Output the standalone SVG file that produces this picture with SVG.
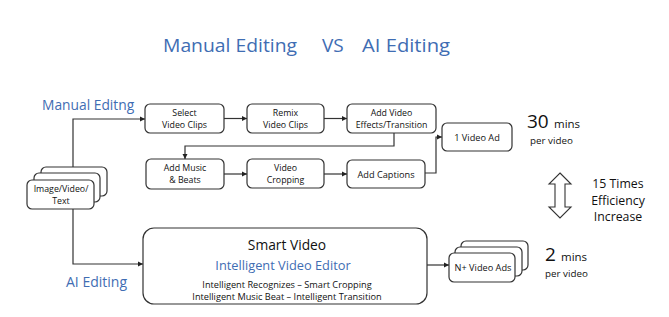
<svg xmlns="http://www.w3.org/2000/svg" width="669" height="317" viewBox="0 0 669 317">
<defs>
<marker id="ah" markerWidth="6" markerHeight="6" refX="5" refY="3" orient="auto" markerUnits="userSpaceOnUse">
<path d="M0,0.5 L5,3 L0,5.5 z" fill="#222"/>
</marker>
<style>
.box{fill:#fff;stroke:#333;stroke-width:1.2}
.lbl{font-family:"Open Sans",Lato,sans-serif;font-size:9.2px;fill:#111;text-anchor:middle}
.lbl2{font-family:"Open Sans",Lato,sans-serif;font-size:8.8px;fill:#111;text-anchor:middle}
.blue{font-family:"Open Sans",Lato,sans-serif;fill:#3f6db3}
.blk{font-family:"Open Sans",Lato,sans-serif;fill:#111}
.conn{fill:none;stroke:#333;stroke-width:1.2}
</style>
</defs>
<rect width="669" height="317" fill="#fff"/>
<g id="title">
<text class="blue" x="163" y="52" font-size="19" textLength="134" lengthAdjust="spacingAndGlyphs">Manual Editing</text>
<text class="blue" x="322" y="52" font-size="19">VS</text>
<text class="blue" x="362" y="52" font-size="19" textLength="88" lengthAdjust="spacingAndGlyphs">AI Editing</text>
</g>
<g id="label-manual"><text class="blue" x="42" y="110" font-size="13.8">Manual Editng</text></g>
<g id="label-ai"><text class="blue" x="66" y="287" font-size="14">AI Editing</text></g>
<g id="connectors">
<path class="conn" d="M73,167 V119 H145" marker-end="url(#ah)"/>
<path class="conn" d="M224,118.5 H247" marker-end="url(#ah)"/>
<path class="conn" d="M324,118.5 H347" marker-end="url(#ah)"/>
<path class="conn" d="M394,133 V146 H185 V159" marker-end="url(#ah)"/>
<path class="conn" d="M224,174 H247" marker-end="url(#ah)"/>
<path class="conn" d="M324,174 H347" marker-end="url(#ah)"/>
<path class="conn" d="M425,173 H436 V137 H442" marker-end="url(#ah)"/>
<path class="conn" d="M73,209 V264 H143" marker-end="url(#ah)"/>
<path class="conn" d="M427,265 H449" marker-end="url(#ah)"/>
</g>
<g id="source">
<rect class="box" x="41" y="167" width="66" height="29" rx="5"/>
<rect class="box" x="34" y="173" width="66" height="29" rx="5"/>
<rect class="box" x="27" y="180" width="67" height="29" rx="5"/>
<text class="lbl2" x="61" y="192">Image/Video/</text>
<text class="lbl2" x="61" y="204">Text</text>
</g>
<g id="select">
<rect class="box" x="145" y="104" width="79" height="29" rx="5"/>
<text class="lbl2" x="184.5" y="116">Select</text>
<text class="lbl2" x="184.5" y="128">Video Clips</text>
</g>
<g id="remix">
<rect class="box" x="247" y="104" width="77" height="29" rx="5"/>
<text class="lbl2" x="285.5" y="116">Remix</text>
<text class="lbl2" x="285.5" y="128">Video Clips</text>
</g>
<g id="effects">
<rect class="box" x="347" y="104" width="89" height="29" rx="5"/>
<text class="lbl2" x="391.5" y="116">Add Video</text>
<text class="lbl2" x="391.5" y="128">Effects/Transition</text>
</g>
<g id="music">
<rect class="box" x="146" y="159" width="78" height="30" rx="5"/>
<text class="lbl2" x="185" y="171">Add Music</text>
<text class="lbl2" x="185" y="183">&amp; Beats</text>
</g>
<g id="cropping">
<rect class="box" x="247" y="159" width="77" height="29" rx="5"/>
<text class="lbl2" x="285.5" y="171">Video</text>
<text class="lbl2" x="285.5" y="183">Cropping</text>
</g>
<g id="captions">
<rect class="box" x="347" y="160" width="78" height="28" rx="5"/>
<text class="lbl" x="386" y="177.5">Add Captions</text>
</g>
<g id="one-ad">
<rect class="box" x="442" y="123" width="70" height="28" rx="5"/>
<text class="lbl" x="477" y="140.5">1 Video Ad</text>
</g>
<g id="time-manual">
<text class="blk" x="527" y="128" font-size="19">30</text>
<text class="blk" x="554" y="128" font-size="11.5">mins</text>
<text class="blk" x="530" y="144" font-size="9.8">per video</text>
</g>
<g id="efficiency">
<path d="M560,173 L571,184 H565 V207 H571 L560,218 L549,207 H555 V184 H549 Z" fill="#fff" stroke="#333" stroke-width="1.1"/>
<text class="blk" x="618" y="188" font-size="12.3" text-anchor="middle">15 Times</text>
<text class="blk" x="618" y="204.5" font-size="12.3" text-anchor="middle">Efficiency</text>
<text class="blk" x="618" y="221" font-size="12.3" text-anchor="middle">Increase</text>
</g>
<g id="smart">
<rect class="box" x="143" y="228" width="284" height="76" rx="11"/>
<text class="blk" x="287" y="250" font-size="13.8" text-anchor="middle">Smart Video</text>
<text class="blue" x="283" y="270" font-size="12.8" text-anchor="middle">Intelligent Video Editor</text>
<text class="blk" x="287" y="287.5" font-size="9.2" text-anchor="middle">Intelligent Recognizes – Smart Cropping</text>
<text class="blk" x="287" y="299.5" font-size="9.2" text-anchor="middle">Intelligent Music Beat – Intelligent Transition</text>
</g>
<g id="n-ads">
<rect class="box" x="461" y="241" width="67" height="29" rx="5"/>
<rect class="box" x="455" y="247" width="67" height="29" rx="5"/>
<rect class="box" x="449" y="253" width="66" height="29" rx="5"/>
<text class="lbl" x="483" y="270.5">N+ Video Ads</text>
</g>
<g id="time-ai">
<text class="blk" x="545" y="261" font-size="19">2</text>
<text class="blk" x="561" y="261" font-size="11.5">mins</text>
<text class="blk" x="545" y="277" font-size="9.8">per video</text>
</g>
</svg>
